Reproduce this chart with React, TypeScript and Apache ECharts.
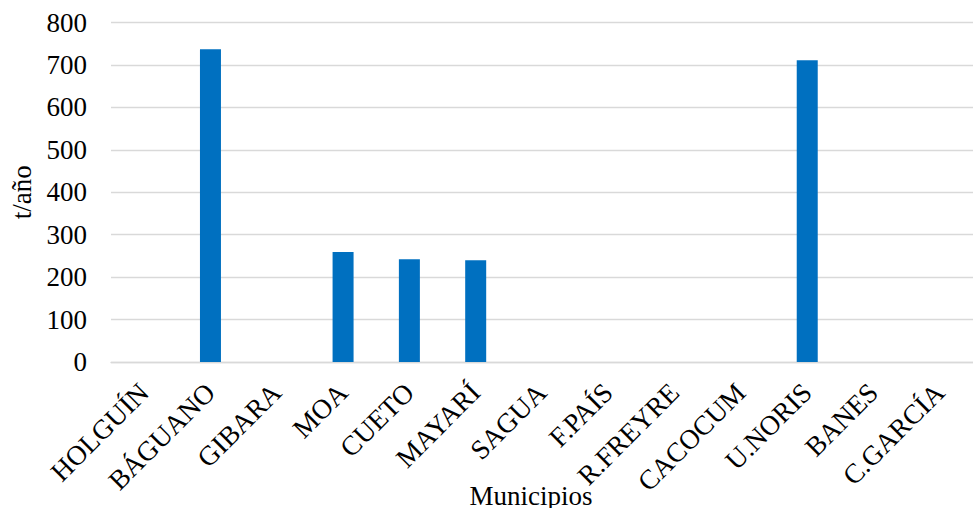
import React, { useEffect, useRef } from "react";
import * as echarts from "echarts";

const municipios = [
  "HOLGUÍN",
  "BÁGUANO",
  "GIBARA",
  "MOA",
  "CUETO",
  "MAYARÍ",
  "SAGUA",
  "F.PAÍS",
  "R.FREYRE",
  "CACOCUM",
  "U.NORIS",
  "BANES",
  "C.GARCÍA",
];

const toneladasAnio = [0, 737, 0, 259, 242, 240, 0, 0, 0, 0, 711, 0, 0];

const yTicks = { min: 0, max: 800, interval: 100 };

const FONT = "'Liberation Serif', 'Times New Roman', serif";

export default function App() {
  const ref = useRef<HTMLDivElement>(null);

  useEffect(() => {
    if (!ref.current) return;
    const chart = echarts.init(ref.current, null, { renderer: "svg" });
    chart.setOption({
      animation: false,
      backgroundColor: "#ffffff",
      grid: {
        left: 110.5,
        right: -10.6,
        top: 22.5,
        bottom: 146,
        containLabel: false,
      },
      xAxis: {
        type: "category",
        data: municipios,
        axisLine: { show: true, lineStyle: { color: "#d9d9d9", width: 1.3 } },
        axisTick: { show: false },
        axisLabel: {
          interval: 0,
          rotate: 45,
          margin: 26,
          color: "#000",
          fontFamily: FONT,
          fontSize: 27.5,
        },
      },
      yAxis: {
        type: "value",
        min: yTicks.min,
        max: yTicks.max,
        interval: yTicks.interval,
        name: "t/año",
        nameLocation: "middle",
        nameGap: 76,
        nameRotate: 90,
        nameTextStyle: { color: "#000", fontFamily: FONT, fontSize: 27 },
        axisLine: { show: false },
        axisTick: { show: false },
        splitLine: { lineStyle: { color: "#d9d9d9", width: 1.3 } },
        axisLabel: {
          margin: 24,
          color: "#000",
          fontFamily: FONT,
          fontSize: 27,
        },
      },
      graphic: [
        {
          type: "text",
          x: 531,
          y: 496,
          style: {
            text: "Municipios",
            fill: "#000",
            font: `27px ${FONT}`,
            textAlign: "center",
            textVerticalAlign: "middle",
          },
        },
      ],
      series: [
        {
          type: "bar",
          data: toneladasAnio,
          barWidth: 21,
          itemStyle: { color: "#0070C0" },
        },
      ],
    });
    return () => chart.dispose();
  }, []);

  return (
    <div
      ref={ref}
      style={{ position: "absolute", left: 0, top: 0, width: 973, height: 508 }}
    />
  );
}
